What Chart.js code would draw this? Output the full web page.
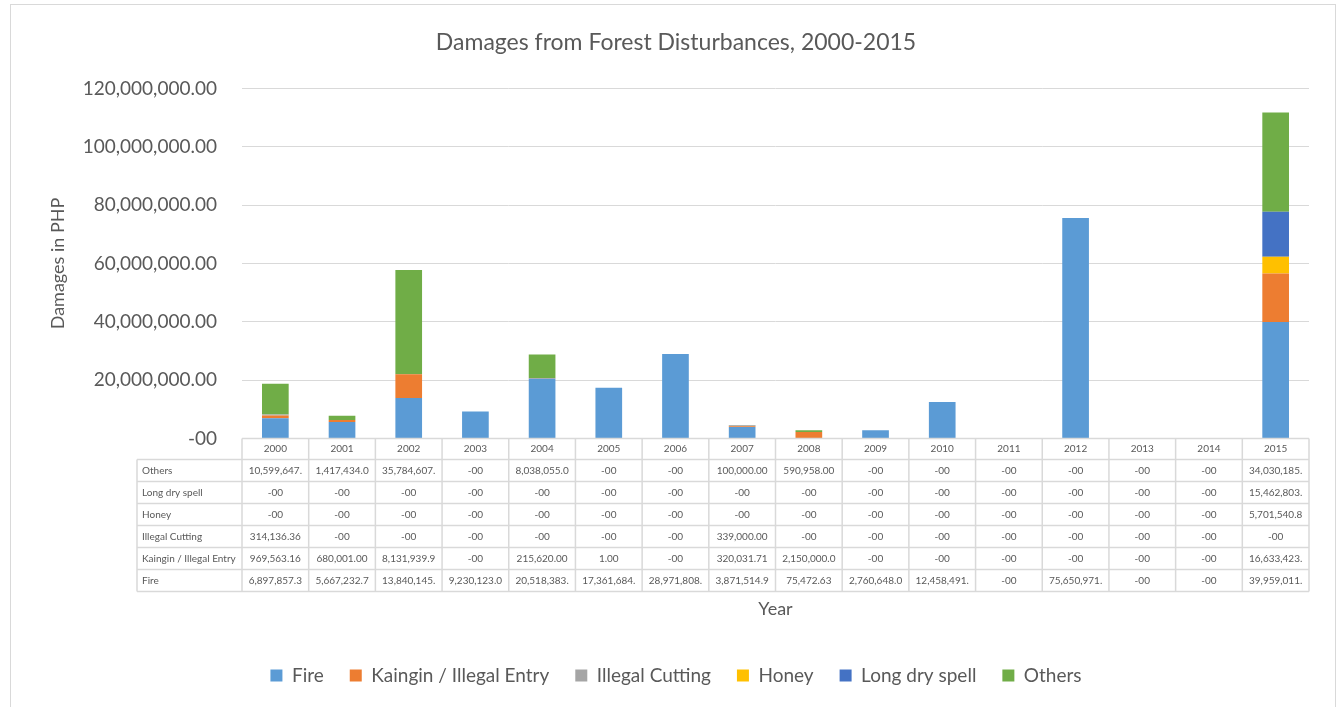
<!DOCTYPE html>
<html>
<head>
<meta charset="utf-8">
<script src="https://cdn.jsdelivr.net/npm/chart.js@4/dist/chart.umd.min.js"></script>
<style>
  html, body { margin: 0; padding: 0; background: #fff; }
  #wrap { position: relative; width: 1343px; height: 707px; overflow: hidden; }
  #frame { position: absolute; left: 10px; top: 4px; width: 1326px; height: 720px;
           border: 1px solid #d9d9d9; box-sizing: border-box; pointer-events: none; }
</style>
</head>
<body>
<div id="wrap">
  <canvas id="barChart" width="1343" height="707"></canvas>
  <div id="frame"></div>
</div>
<script>
const years = ['2000', '2001', '2002', '2003', '2004', '2005', '2006', '2007',
               '2008', '2009', '2010', '2011', '2012', '2013', '2014', '2015'];

const fire = [6897857.3, 5667232.7, 13840145, 9230123.0, 20518383, 17361684, 28971808, 3871514.9,
              75472.63, 2760648.0, 12458491, 0, 75650971, 0, 0, 39959011];
const kaingin = [969563.16, 680001.00, 8131939.9, 0, 215620.00, 1.00, 0, 320031.71,
                 2150000.0, 0, 0, 0, 0, 0, 0, 16633423];
const illegalCutting = [314136.36, 0, 0, 0, 0, 0, 0, 339000.00,
                        0, 0, 0, 0, 0, 0, 0, 0];
const honey = [0, 0, 0, 0, 0, 0, 0, 0,
               0, 0, 0, 0, 0, 0, 0, 5701540.8];
const longDrySpell = [0, 0, 0, 0, 0, 0, 0, 0,
                      0, 0, 0, 0, 0, 0, 0, 15462803];
const others = [10599647, 1417434.0, 35784607, 0, 8038055.0, 0, 0, 100000.00,
                590958.00, 0, 0, 0, 0, 0, 0, 34030185];

const yTicks = [0, 20000000, 40000000, 60000000, 80000000, 100000000, 120000000];

const FONT = 'Lato';
const GREY = '#595959';

function fmt(v) {
    if (v === 0) return '-00';
    return v.toLocaleString('en-US', { minimumFractionDigits: 2, maximumFractionDigits: 2 });
}

// Excel cuts the text off when it does not fit the cell
function cellText(v) {
    return fmt(v).slice(0, 11);
}

const dataTable = {
    id: 'dataTable',
    afterDraw(chart) {
        const ctx = chart.ctx;
        const x = chart.scales.x;
        const top = chart.scales.y.getPixelForValue(0);
        const colW = (x.right - x.left) / years.length;
        const headH = 21;
        const rowH = 22;
        const labelLeft = x.left - 105;
        const rows = chart.data.datasets.slice().reverse();
        const bottom = top + headH + rowH * rows.length;

        ctx.save();
        ctx.strokeStyle = '#d9d9d9';
        ctx.lineWidth = 1.5;
        ctx.beginPath();
        // horizontal lines
        ctx.moveTo(x.left, top);
        ctx.lineTo(x.right, top);
        for (let r = 0; r <= rows.length; r++) {
            const yy = top + headH + r * rowH;
            ctx.moveTo(labelLeft, yy);
            ctx.lineTo(x.right, yy);
        }
        // vertical lines
        ctx.moveTo(labelLeft, top + headH);
        ctx.lineTo(labelLeft, bottom);
        for (let c = 0; c <= years.length; c++) {
            const xx = x.left + c * colW;
            ctx.moveTo(xx, top);
            ctx.lineTo(xx, bottom);
        }
        ctx.stroke();

        ctx.fillStyle = GREY;
        ctx.font = '10px ' + FONT;
        ctx.textBaseline = 'middle';
        ctx.textAlign = 'center';
        years.forEach((yr, i) => {
            ctx.fillText(yr, x.getPixelForValue(i), top + headH / 2);
        });
        rows.forEach((ds, r) => {
            const yy = top + headH + r * rowH + rowH / 2;
            ctx.textAlign = 'left';
            ctx.fillText(ds.label, labelLeft + 5, yy);
            ctx.textAlign = 'center';
            ds.data.forEach((v, i) => {
                ctx.fillText(cellText(v), x.getPixelForValue(i), yy);
            });
        });
        ctx.restore();
    }
};

const series = [
    { label: 'Fire', data: fire, color: '#5b9bd5' },
    { label: 'Kaingin / Illegal Entry', data: kaingin, color: '#ed7d31' },
    { label: 'Illegal Cutting', data: illegalCutting, color: '#a5a5a5' },
    { label: 'Honey', data: honey, color: '#ffc000' },
    { label: 'Long dry spell', data: longDrySpell, color: '#4472c4' },
    { label: 'Others', data: others, color: '#70ad47' }
];

const ctx = document.getElementById('barChart').getContext('2d');
new Chart(ctx, {
    type: 'bar',
    data: {
        labels: years,
        datasets: series.map(s => ({
            label: s.label,
            data: s.data,
            backgroundColor: s.color,
            borderWidth: 0,
            barPercentage: 0.4,
            categoryPercentage: 1
        }))
    },
    options: {
        responsive: false,
        animation: false,
        layout: { padding: { left: 43, right: 34, top: 29, bottom: 12 } },
        plugins: {
            title: {
                display: true,
                text: 'Damages from Forest Disturbances, 2000-2015',
                color: GREY,
                font: { family: FONT, size: 23, weight: 'normal' },
                padding: { top: 0, bottom: 32 }
            },
            legend: {
                display: true,
                position: 'bottom',
                labels: {
                    color: GREY,
                    font: { family: FONT, size: 19 },
                    boxWidth: 12,
                    boxHeight: 12,
                    padding: 26
                }
            },
            tooltip: { enabled: false }
        },
        scales: {
            x: {
                stacked: true,
                grid: { display: false },
                border: { display: false },
                ticks: { display: false },
                title: {
                    display: true,
                    text: 'Year',
                    color: GREY,
                    font: { family: FONT, size: 18 },
                    padding: { top: 152, bottom: 20 }
                }
            },
            y: {
                stacked: true,
                min: 0,
                max: 120000000,
                afterFit(scale) { scale.width = 199; },
                afterBuildTicks(scale) { scale.ticks = yTicks.map(v => ({ value: v })); },
                grid: { color: '#d9d9d9', drawTicks: false },
                border: { display: false },
                ticks: {
                    color: GREY,
                    padding: 25,
                    font: { family: FONT, size: 19 },
                    callback: v => fmt(v)
                },
                title: {
                    display: true,
                    text: 'Damages in PHP',
                    color: GREY,
                    font: { family: FONT, size: 18 }
                }
            }
        }
    },
    plugins: [dataTable]
});
</script>
</body>
</html>
